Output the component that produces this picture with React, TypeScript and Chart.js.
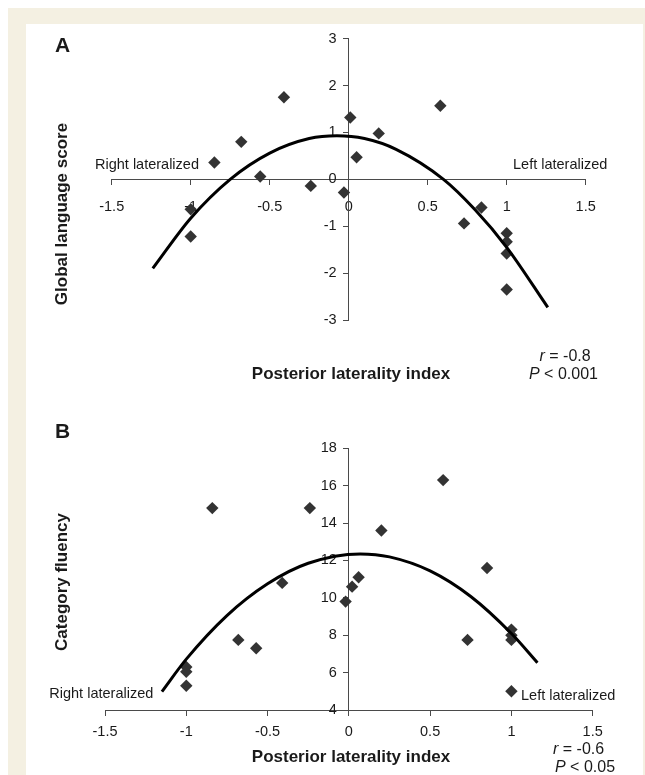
import React, { useEffect, useRef } from "react";
import { Chart, registerables } from "chart.js";

Chart.register(...registerables);

// ---------- data ----------
const xTickValues = [-1.5, -1, -0.5, 0, 0.5, 1, 1.5];
const yTickValuesA = [-3, -2, -1, 0, 1, 2, 3];
const yTickValuesB = [4, 6, 8, 10, 12, 14, 16, 18];

// Panel A: posterior laterality index vs global language score
const lateralityA = [-1.0, -1.0, -0.85, -0.68, -0.56, -0.41, -0.24, -0.03, 0.01, 0.05, 0.19, 0.58, 0.73, 0.84, 1.0, 1.0, 1.0, 1.0];
const languageScoreA = [-0.64, -1.22, 0.36, 0.8, 0.06, 1.75, -0.14, -0.28, 1.32, 0.47, 0.98, 1.57, -0.94, -0.6, -1.15, -1.33, -1.58, -2.35];
// quadratic trend line
const trendXA = [-1.24, -1.0, -0.75, -0.5, -0.25, -0.075, 0.1, 0.3, 0.6, 0.8, 1.0, 1.26];
const trendYA = [-1.9, -0.83, 0.0, 0.56, 0.87, 0.93, 0.87, 0.64, 0.0, -0.65, -1.45, -2.73];

// Panel B: posterior laterality index vs category fluency
const lateralityB = [-1.0, -1.0, -1.0, -0.84, -0.68, -0.57, -0.41, -0.24, -0.02, 0.02, 0.06, 0.2, 0.58, 0.73, 0.85, 1.0, 1.0, 1.0, 1.0];
const fluencyB = [6.3, 6.05, 5.3, 14.8, 7.75, 7.3, 10.8, 14.8, 9.8, 10.6, 11.1, 13.6, 16.3, 7.75, 11.6, 8.3, 8.0, 7.75, 5.0];
const trendXB = [-1.15, -1.0, -0.75, -0.5, -0.25, 0.07, 0.25, 0.5, 0.75, 1.0, 1.16];
const trendYB = [4.98, 6.72, 9.05, 10.75, 11.85, 12.35, 12.19, 11.44, 10.07, 8.09, 6.53];

// ---------- style ----------
const FONT = "'Liberation Sans', Arial, Helvetica, sans-serif";
const CREAM = "#f4f0e2";
const AXIS = "#4a4a4a";
const INK = "#1a1a1a";

type Pad = { left: number; right: number; top: number; bottom: number };

function buildConfig(
  xs: number[],
  ys: number[],
  tx: number[],
  ty: number[],
  yTicks: number[],
  xAxisAt: number,
  pad: Pad,
  xLabelPad: number
): any {
  const points = xs.map((x, i) => ({ x, y: ys[i] }));
  const trend = tx.map((x, i) => ({ x, y: ty[i] }));
  const tickFont = { family: FONT, size: 14.5 };
  return {
    type: "scatter",
    data: {
      datasets: [
        {
          data: trend,
          showLine: true,
          borderColor: "#000",
          borderWidth: 3,
          pointRadius: 0,
          cubicInterpolationMode: "monotone",
          fill: false,
          order: 0,
          clip: false,
        },
        {
          data: points,
          pointStyle: "rectRot",
          pointRadius: 6.2,
          backgroundColor: "#333",
          borderColor: "#333",
          borderWidth: 0,
          order: 1,
          clip: false,
        },
      ],
    },
    options: {
      animation: false,
      responsive: false,
      events: [],
      layout: { padding: pad },
      plugins: { legend: { display: false }, tooltip: { enabled: false } },
      scales: {
        x: {
          type: "linear",
          min: xTickValues[0],
          max: xTickValues[xTickValues.length - 1],
          position: { y: xAxisAt },
          afterBuildTicks: (s: any) => {
            s.ticks = xTickValues.map((v) => ({ value: v }));
          },
          grid: {
            display: true,
            drawOnChartArea: false,
            drawTicks: true,
            tickLength: 5,
            color: AXIS,
            tickColor: AXIS,
          },
          border: { display: true, color: AXIS, width: 1 },
          ticks: {
            padding: xLabelPad,
            font: tickFont,
            color: INK,
            maxRotation: 0,
            autoSkip: false,
            callback: (v: any) => String(v),
          },
        },
        y: {
          type: "linear",
          min: yTicks[0],
          max: yTicks[yTicks.length - 1],
          position: { x: 0 },
          afterBuildTicks: (s: any) => {
            s.ticks = yTicks.map((v) => ({ value: v }));
          },
          grid: {
            display: true,
            drawOnChartArea: false,
            drawTicks: true,
            tickLength: 5,
            color: AXIS,
            tickColor: AXIS,
          },
          border: { display: true, color: AXIS, width: 1 },
          ticks: {
            font: tickFont,
            color: INK,
            autoSkip: false,
            callback: (v: any) => `${v}   `,
          },
        },
      },
    },
  };
}

function Panel(props: { config: () => any; left: number; top: number; width: number; height: number }) {
  const ref = useRef<HTMLCanvasElement>(null);
  useEffect(() => {
    const chart = new Chart(ref.current as HTMLCanvasElement, props.config());
    return () => chart.destroy();
  }, []);
  return (
    <canvas
      ref={ref}
      width={props.width}
      height={props.height}
      style={{ position: "absolute", left: props.left, top: props.top, width: props.width, height: props.height }}
    />
  );
}

function Label(props: { x: number; base: number; size: number; bold?: boolean; center?: boolean; children: any }) {
  const { x, base, size, bold, center, children } = props;
  return (
    <div
      style={{
        position: "absolute",
        left: x,
        top: base - 0.8465 * size,
        fontSize: size,
        lineHeight: `${size}px`,
        fontWeight: bold ? 700 : 400,
        whiteSpace: "nowrap",
        fontFamily: FONT,
        color: INK,
        transform: center ? "translateX(-50%)" : undefined,
      }}
    >
      {children}
    </div>
  );
}

function VLabel(props: { cx: number; cy: number; size: number; children: any }) {
  const { cx, cy, size, children } = props;
  return (
    <div
      style={{
        position: "absolute",
        left: cx,
        top: cy,
        fontSize: size,
        lineHeight: `${size}px`,
        fontWeight: 700,
        whiteSpace: "nowrap",
        fontFamily: FONT,
        color: INK,
        transform: "translate(-50%, -50%) rotate(-90deg)",
      }}
    >
      {children}
    </div>
  );
}

export default function App() {
  const cfgA = () =>
    buildConfig(lateralityA, languageScoreA, trendXA, trendYA, yTickValuesA, 0, { left: 85.7, right: 57.3, top: 14.7, bottom: 74 }, 13.7);
  const cfgB = () =>
    buildConfig(lateralityB, fluencyB, trendXB, trendYB, yTickValuesB, 4, { left: 79, right: 50.3, top: 48.3, bottom: 65 }, 8.3);
  return (
    <div style={{ position: "absolute", left: 0, top: 0, width: 645, height: 775, background: "#fff", overflow: "hidden" }}>
      <div style={{ position: "absolute", left: 8, top: 8, width: 637, height: 767, background: CREAM }} />
      <div style={{ position: "absolute", left: 26, top: 24, width: 617, height: 751, background: "#fff" }} />

      <Panel config={cfgA} left={26} top={24} width={617} height={370} />
      <Panel config={cfgB} left={26} top={400} width={617} height={375} />

      <Label x={55} base={52} size={21} bold>A</Label>
      <Label x={55} base={438} size={21} bold>B</Label>

      <VLabel cx={61.3} cy={213.5} size={17}>Global language score</VLabel>
      <VLabel cx={61.3} cy={582} size={17}>Category fluency</VLabel>

      <Label x={351} base={379} size={17} bold center>Posterior laterality index</Label>
      <Label x={351} base={762} size={17} bold center>Posterior laterality index</Label>

      <Label x={539.5} base={362} size={16}><i>r</i> = -0.8</Label>
      <Label x={529} base={380} size={16}><i>P</i> &lt; 0.001</Label>
      <Label x={553} base={755} size={16}><i>r</i> = -0.6</Label>
      <Label x={555} base={772.7} size={16}><i>P</i> &lt; 0.05</Label>

      <Label x={95} base={169.4} size={14.5}>Right lateralized</Label>
      <Label x={513} base={169} size={14.5}>Left lateralized</Label>
      <Label x={49.3} base={698.7} size={14.5}>Right lateralized</Label>
      <Label x={521} base={700.4} size={14.5}>Left lateralized</Label>
    </div>
  );
}
